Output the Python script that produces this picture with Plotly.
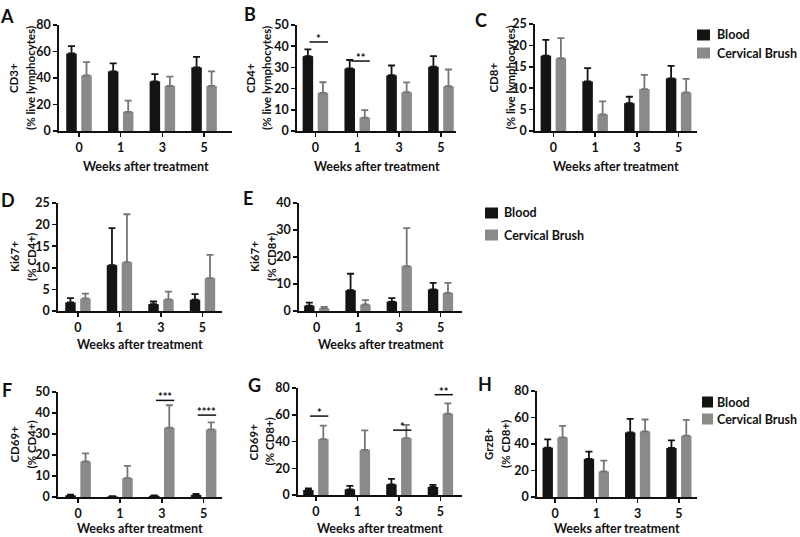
import plotly.graph_objects as go

# ---------------- data ----------------
weeks = ["0", "1", "3", "5"]
series_names = ["Blood", "Cervical Brush"]

a_blood = [58.5, 45, 37.5, 48];   a_blood_err = [5.5, 6, 5.5, 8]
a_cerv = [42, 14.5, 34, 34];      a_cerv_err = [10, 8.5, 7, 11]

b_blood = [35.3, 29.5, 26.3, 30.3]; b_blood_err = [3.2, 4, 4.6, 5]
b_cerv = [18, 6.3, 18.3, 21.1];     b_cerv_err = [5, 3.5, 4.6, 7.9]

c_blood = [17.6, 11.6, 6.5, 12.3];  c_blood_err = [3.7, 3.1, 1.5, 2.9]
c_cerv = [17, 3.9, 9.8, 9.0];       c_cerv_err = [4.7, 3, 3.3, 3.2]

d_blood = [2.0, 10.6, 1.6, 2.6];    d_blood_err = [1, 8.6, 0.6, 1.3]
d_cerv = [2.9, 11.3, 2.7, 7.6];     d_cerv_err = [1.1, 11.1, 1.8, 5.4]

e_blood = [2.0, 7.7, 3.5, 8.0];     e_blood_err = [1.1, 6.1, 1.3, 2.4]
e_cerv = [1.0, 2.4, 16.6, 6.7];     e_cerv_err = [0.5, 1.6, 14.1, 3.7]

f_blood = [0.8, 0.3, 0.6, 1.0];     f_blood_err = [0.3, 0.1, 0.2, 0.5]
f_cerv = [16.9, 9.0, 33.0, 32.2];   f_cerv_err = [3.9, 5.8, 10.7, 3.3]

g_blood = [3.75, 4.25, 8.0, 6.0];   g_blood_err = [1.25, 2.5, 4, 1.5]
g_cerv = [41.8, 33.75, 42.5, 60.75]; g_cerv_err = [10, 14.5, 10, 7.75]

h_blood = [37.25, 28.75, 48.75, 37]; h_blood_err = [6.25, 5.5, 10.25, 5.75]
h_cerv = [45, 19.25, 49.5, 46.25];   h_cerv_err = [8.75, 8.25, 9, 12]

# significance markers
b_sig_weeks = ["0", "1"];      b_sig_y = [42, 33];        b_sig_text = ["*", "**"]
f_sig_weeks = ["3", "5"];      f_sig_y = [46, 39];        f_sig_text = ["***", "****"]
g_sig_weeks = ["0", "3", "5"]; g_sig_y = [59, 48.5, 75];  g_sig_text = ["*", "*", "**"]

# y-axis titles / limits
a_title = ["CD3+", "(% live lymphocytes)"]; a_ymax, a_dtick = 80, 20
b_title = ["CD4+", "(% live lymphocytes)"]; b_ymax, b_dtick = 50, 10
c_title = ["CD8+", "(% live lymphocytes)"]; c_ymax, c_dtick = 25, 5
d_title = ["Ki67+", "(% CD4+)"];            d_ymax, d_dtick = 25, 5
e_title = ["Ki67+", "(% CD8+)"];            e_ymax, e_dtick = 40, 10
f_title = ["CD69+", "(% CD4+)"];            f_ymax, f_dtick = 50, 10
g_title = ["CD69+", "(% CD8+)"];            g_ymax, g_dtick = 80, 20
h_title = ["GrzB+", "(% CD8+)"];            h_ymax, h_dtick = 80, 20
x_title = "Weeks after treatment"

# ---------------- layout specs (pixels) ----------------
W, H = 800, 537
FONT = "Lato, Roboto, Liberation Sans, sans-serif"
INK = "#111111"
BLACK = "#141414"
GRAY = "#8a8a8a"
GRAY_ERR = "#767676"
series_colors = [BLACK, GRAY]

panels = [
    dict(L="A", b=a_blood, be=a_blood_err, c=a_cerv, ce=a_cerv_err, t=a_title, ymax=a_ymax, dt=a_dtick,
         xpx=(59, 232), ypx=(25, 131), xr=(-0.48, 3.67), lp=(7, 16), tx=(14, 31), xty=166, leg=None, sig=None),
    dict(L="B", b=b_blood, be=b_blood_err, c=b_cerv, ce=b_cerv_err, t=b_title, ymax=b_ymax, dt=b_dtick,
         xpx=(297, 456), ypx=(25, 131), xr=(-0.44, 3.36), lp=(250, 14), tx=(251, 267), xty=166, leg=None,
         sig=(b_sig_weeks, b_sig_y, b_sig_text)),
    dict(L="C", b=c_blood, be=c_blood_err, c=c_cerv, ce=c_cerv_err, t=c_title, ymax=c_ymax, dt=c_dtick,
         xpx=(535, 697), ypx=(24, 131), xr=(-0.44, 3.44), lp=(481, 20), tx=(493, 510), xty=166,
         leg=dict(sq=(697, 710), ys=(35, 53), tx=715), sig=None),
    dict(L="D", b=d_blood, be=d_blood_err, c=d_cerv, ce=d_cerv_err, t=d_title, ymax=d_ymax, dt=d_dtick,
         xpx=(58, 222), ypx=(203, 311), xr=(-0.48, 3.47), lp=(8, 200), tx=(14, 31), xty=344, leg=None, sig=None),
    dict(L="E", b=e_blood, be=e_blood_err, c=e_cerv, ce=e_cerv_err, t=e_title, ymax=e_ymax, dt=e_dtick,
         xpx=(299, 462), ypx=(203, 311), xr=(-0.43, 3.52), lp=(248, 198), tx=(254, 271), xty=344,
         leg=dict(sq=(485, 498), ys=(213, 235), tx=502), sig=None),
    dict(L="F", b=f_blood, be=f_blood_err, c=f_cerv, ce=f_cerv_err, t=f_title, ymax=f_ymax, dt=f_dtick,
         xpx=(58, 222), ypx=(392, 497), xr=(-0.48, 3.44), lp=(7, 390), tx=(14, 31), xty=528, leg=None,
         sig=(f_sig_weeks, f_sig_y, f_sig_text)),
    dict(L="G", b=g_blood, be=g_blood_err, c=g_cerv, ce=g_cerv_err, t=g_title, ymax=g_ymax, dt=g_dtick,
         xpx=(298, 462), ypx=(388, 495), xr=(-0.43, 3.52), lp=(254, 385), tx=(253, 269), xty=528, leg=None,
         sig=(g_sig_weeks, g_sig_y, g_sig_text)),
    dict(L="H", b=h_blood, be=h_blood_err, c=h_cerv, ce=h_cerv_err, t=h_title, ymax=h_ymax, dt=h_dtick,
         xpx=(537, 697), ypx=(391, 497), xr=(-0.44, 3.44), lp=(485, 384), tx=(488, 505), xty=528,
         leg=dict(sq=(702, 713), ys=(402, 419), tx=715), sig=None),
]


def px(x):
    return x / W


def py(y):
    return 1 - y / H


fig = go.Figure()
layout = dict(
    width=W, height=H, margin=dict(l=0, r=0, t=0, b=0, autoexpand=False),
    paper_bgcolor="white", plot_bgcolor="white",
    barmode="group", bargap=0.28, bargroupgap=0.3,
    font=dict(family=FONT, size=13, color=INK, weight="bold"),
    showlegend=False,
)
annotations = []
shapes = []

for i, p in enumerate(panels):
    n = "" if i == 0 else str(i + 1)
    xa, ya = "x" + n, "y" + n
    for name, vals, errs, col, ecol in [
        (series_names[0], p["b"], p["be"], BLACK, BLACK),
        (series_names[1], p["c"], p["ce"], GRAY, GRAY_ERR),
    ]:
        fig.add_trace(go.Bar(
            x=weeks, y=vals, name=name, xaxis=xa, yaxis=ya,
            marker=dict(color=col, line=dict(width=0)),
            error_y=dict(type="data", array=errs, arrayminus=[0] * len(errs), symmetric=False,
                         color=ecol, thickness=1.8, width=3.5),
        ))
    axis_common = dict(showline=True, linecolor=INK, linewidth=1.8,
                       ticks="outside", ticklen=4, tickwidth=1.5, tickcolor=INK,
                       tickfont=dict(family=FONT, size=12.5, weight="bold", color=INK),
                       ticklabeloverflow="allow",
                       showgrid=False, zeroline=False, fixedrange=True)
    layout["xaxis" + n] = dict(axis_common, domain=[px(p["xpx"][0]), px(p["xpx"][1])], anchor=ya,
                               type="category", range=list(p["xr"]))
    layout["yaxis" + n] = dict(axis_common, domain=[py(p["ypx"][1]), py(p["ypx"][0])], anchor=xa,
                               range=[0, p["ymax"]], dtick=p["dt"], tick0=0)
    # panel letter
    annotations.append(dict(text=p["L"], x=px(p["lp"][0]), y=py(p["lp"][1]), xref="paper", yref="paper",
                            showarrow=False, xanchor="center", yanchor="middle",
                            font=dict(family=FONT, size=18, weight="bold", color=INK)))
    # y titles (two lines)
    ymid = py((p["ypx"][0] + p["ypx"][1]) / 2)
    for line, xc in zip(p["t"], p["tx"]):
        annotations.append(dict(text=line, x=px(xc), y=ymid, xref="paper", yref="paper", textangle=-90,
                                showarrow=False, xanchor="center", yanchor="middle",
                                font=dict(family=FONT, size=11.5, weight="bold", color=INK)))
    # x title
    annotations.append(dict(text=x_title, x=px((p["xpx"][0] + p["xpx"][1]) / 2), y=py(p["xty"]),
                            xref="paper", yref="paper", showarrow=False, xanchor="center", yanchor="middle",
                            font=dict(family=FONT, size=12.5, weight="bold", color=INK)))
    # significance
    if p["sig"]:
        for wk, yv, tx in zip(*p["sig"]):
            k = weeks.index(wk)
            shapes.append(dict(type="line", xref=xa, yref=ya, x0=k - 0.14, x1=k + 0.3, y0=yv, y1=yv,
                               line=dict(color=INK, width=1.5)))
            annotations.append(dict(text=tx, x=k + 0.08, y=yv, xref=xa, yref=ya, showarrow=False,
                                    xanchor="center", yanchor="bottom", yshift=-5,
                                    font=dict(family=FONT, size=11, weight="bold", color=INK)))
    # legend (drawn as keys + labels)
    if p["leg"]:
        lg = p["leg"]
        for name, col, yc in zip(series_names, series_colors, lg["ys"]):
            shapes.append(dict(type="rect", xref="paper", yref="paper",
                               x0=px(lg["sq"][0]), x1=px(lg["sq"][1]), y0=py(yc + 5.5), y1=py(yc - 5.5),
                               fillcolor=col, line=dict(width=0)))
            annotations.append(dict(text=name, x=px(lg["tx"]), y=py(yc), xref="paper", yref="paper",
                                    showarrow=False, xanchor="left", yanchor="middle",
                                    font=dict(family=FONT, size=12.5, weight="bold", color=INK)))

layout["annotations"] = annotations
layout["shapes"] = shapes

fig.update_layout(**layout)
fig.write_html("out.html", config={"displayModeBar": False, "staticPlot": True},
               post_script="document.body.style.margin='0';document.body.style.padding='0';")
